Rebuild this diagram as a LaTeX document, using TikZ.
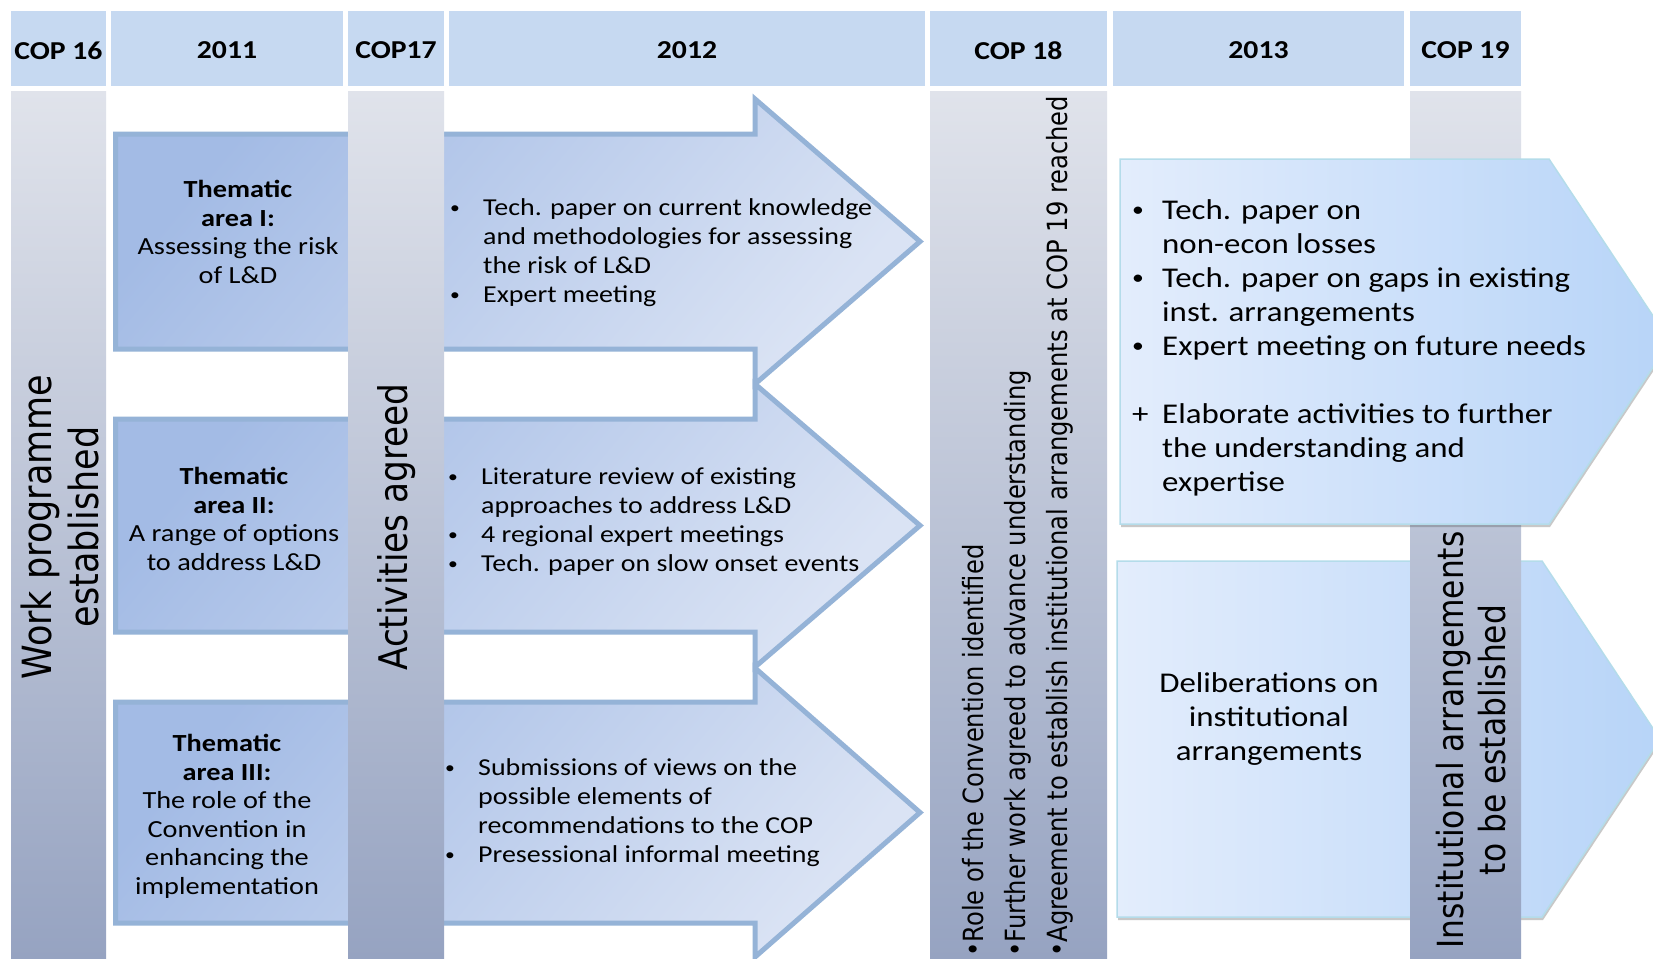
\documentclass[tikz,border=0pt]{standalone}
\usepackage{fontspec}
\setmainfont{Carlito}[FakeStretch=1.15]
\newfontfamily\vfont{DejaVu Sans}
\usetikzlibrary{shadows}
\definecolor{hdr}{HTML}{C6D9F1}
\definecolor{bartop}{HTML}{E0E3EB}
\definecolor{barbot}{HTML}{96A3C1}
\definecolor{arrline}{HTML}{95B3D7}
\definecolor{arrA}{HTML}{A3BBE5}
\definecolor{arrB}{HTML}{DAE3F4}
\definecolor{blkL}{HTML}{E3EDFC}
\definecolor{blkR}{HTML}{B7D4F8}
\definecolor{blkline}{HTML}{B4DCEA}
\newcommand\mybul{\makebox[33pt][l]{\raisebox{2.4pt}{\scalebox{0.7}{\textbullet}}}}
\newcommand\myind{\hspace*{33pt}}
\newcommand\mybulB{\makebox[30pt][l]{\raisebox{2.6pt}{\scalebox{0.72}{\textbullet}}}}
\newcommand\myplusB{\makebox[30pt][l]{+}}
\newcommand\myindB{\hspace*{30pt}}
\tikzset{
  hdrcell/.style={fill=hdr, draw=none},
  graybar/.style={top color=bartop, bottom color=barbot, draw=none},
  thema/.style={draw=arrline, line width=5pt, top color=arrA, bottom color=arrB, shading angle=50, line join=miter},
  blk/.style={left color=blkL, right color=blkR, draw=blkline, line width=1.5pt,
    drop shadow={shadow xshift=1pt, shadow yshift=-3pt, opacity=0.3, fill=black!70}},
  hdrtxt/.style={font=\fontsize{25.8}{30}\selectfont\bfseries, inner sep=0pt},
  thtxt/.style={font=\fontsize{24.6}{28.5}\selectfont, align=center, inner sep=0pt},
  arrtxt/.style={font=\fontsize{24.3}{29}\selectfont, align=left, inner sep=0pt, anchor=west},
  blktxt/.style={font=\fontsize{28.6}{34}\selectfont, inner sep=0pt},
  vtxt/.style={inner sep=0pt, xscale=1.15, rotate=90},
}
\begin{document}
\begin{tikzpicture}[x=1pt, y=-1pt]
\useasboundingbox (0,0) rectangle (1653,958);
\fill[white] (0,0) rectangle (1653,958);
\clip (0,0) rectangle (1653,958);

% header cells
\fill[hdrcell] (11,11) rectangle (106,86);
\fill[hdrcell] (111,11) rectangle (343,86);
\fill[hdrcell] (348,11) rectangle (444,86);
\fill[hdrcell] (449,11) rectangle (925,86);
\fill[hdrcell] (930,11) rectangle (1107,86);
\fill[hdrcell] (1113,11) rectangle (1404,86);
\fill[hdrcell] (1410,11) rectangle (1521,86);

% COP16 bar
\shade[graybar] (11,91) rectangle (106,958);

% thematic arrows
\path[thema] (115.5,134) -- (755,134) -- (755,99) -- (920,241.5) -- (755,384) -- (755,349) -- (115.5,349) -- cycle;
\path[thema] (115.5,419) -- (755,419) -- (755,384) -- (920,525.5) -- (755,667) -- (755,632) -- (115.5,632) -- cycle;
\path[thema] (115.5,702) -- (755,702) -- (755,668) -- (920,812.5) -- (755,957) -- (755,923) -- (115.5,923) -- cycle;

% COP17 and COP18 bars
\shade[graybar] (348,91) rectangle (444,958);
\shade[graybar] (930,91) rectangle (1107,958);

% 2013 blocks and COP19 bar
\path[blk] (1117,561) -- (1542,561) -- (1660,739) -- (1542,917) -- (1117,917) -- cycle;
\shade[graybar] (1410,91) rectangle (1521,958);
\path[blk] (1120,159) -- (1549,159) -- (1670,341.5) -- (1549,524) -- (1120,524) -- cycle;

% header texts
\node[hdrtxt] (h1) at (58.5,50.5) {COP 16};
\node[hdrtxt] (h2) at (227,50.5) {2011};
\node[hdrtxt] (h3) at (396,50.5) {COP17};
\node[hdrtxt] (h4) at (687,50.5) {2012};
\node[hdrtxt] (h5) at (1018.5,50.5) {COP 18};
\node[hdrtxt] (h6) at (1258.5,50.5) {2013};
\node[hdrtxt] (h7) at (1465.5,50.5) {COP 19};

% vertical bar texts
\node[vtxt, font=\vfont\fontsize{35}{41}\selectfont, align=center] (v16) at (60,527) {Work programme\\established};
\node[vtxt, font=\vfont\fontsize{34.3}{40}\selectfont] (v17) at (397,527) {Activities agreed};
\node[vtxt, font=\vfont\fontsize{24.2}{36.5}\selectfont, align=left, anchor=west] (v18) at (1018,957) {•Role of the Convention identified\\•Further work agreed to advance understanding\\•Agreement to establish institutional arrangements at COP 19 reached};
\node[vtxt, font=\vfont\fontsize{31.3}{36.5}\selectfont, align=center] (v19) at (1471,740) {Institutional arrangements\\to be established};

% thematic texts
\node[thtxt] (t1) at (238,232) {\textbf{Thematic}\\\textbf{area I:}\\Assessing the risk\\of L\&D};
\node[thtxt] (t2) at (234,519) {\textbf{Thematic}\\\textbf{area II:}\\A range of options\\to address L\&D};
\node[thtxt] (t3) at (227,816.5) {\textbf{Thematic}\\\textbf{area III:}\\The role of the\\Convention in\\enhancing the\\implementation};

% arrow texts
\node[arrtxt] (a1) at (450,253) {\mybul Tech. paper on current knowledge\\\myind and methodologies for assessing\\\myind the risk of L\&D\\\mybul Expert meeting};
\node[arrtxt] (a2) at (448,521.5) {\mybul Literature review of existing\\\myind approaches to address L\&D\\\mybul 4 regional expert meetings\\\mybul Tech. paper on slow onset events};
\node[arrtxt] (a3) at (445,813) {\mybul Submissions of views on the\\\myind possible elements of\\\myind recommendations to the COP\\\mybul Presessional informal meeting};

% 2013 texts
\node[blktxt, align=left, anchor=west] (b1) at (1132,347.5) {\mybulB Tech. paper on\\\myindB non-econ losses\\\mybulB Tech. paper on gaps in existing\\\myindB inst. arrangements\\\mybulB Expert meeting on future needs\\[34pt]\myplusB Elaborate activities to further\\\myindB the understanding and\\\myindB expertise};
\node[blktxt, align=center] (b2) at (1269,719) {Deliberations on\\institutional\\arrangements};
\end{tikzpicture}
\end{document}
